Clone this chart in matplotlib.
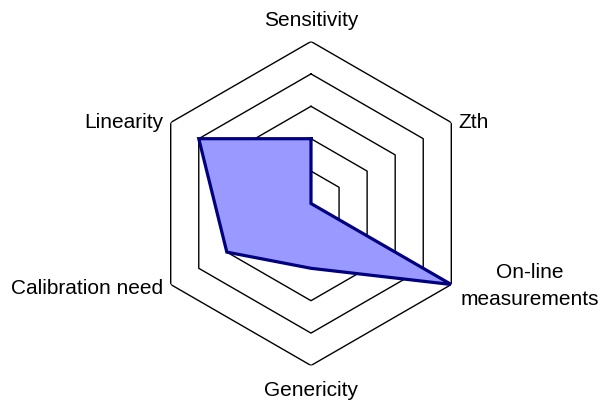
import matplotlib.pyplot as plt
import numpy as np

plt.rcParams['font.family'] = ['Liberation Sans', 'DejaVu Sans']

# data
categories = ['Sensitivity', 'Zth', 'On-line\nmeasurements', 'Genericity',
              'Calibration need', 'Linearity']
values = [2, 0, 5, 2, 3, 4]
levels = [1, 2, 3, 4, 5]

W, H = 610, 400
fig = plt.figure(figsize=(W / 100, H / 100), dpi=100)

# center and outer radius in pixels
cx, cy, R = 311, 203.5, 162
ax = fig.add_axes([(cx - R) / W, (H - cy - R) / H, 2 * R / W, 2 * R / H], polar=True)
ax.set_theta_offset(np.pi / 2)
ax.set_theta_direction(-1)

n = len(categories)
angles = np.linspace(0, 2 * np.pi, n, endpoint=False)
ang_c = np.append(angles, angles[0])

# hexagon grid
for lv in levels:
    ax.plot(ang_c, [lv] * (n + 1), color='black', lw=1.0, zorder=1)

vals_c = np.append(values, values[0])
ax.fill(ang_c, vals_c, facecolor='#9999ff', edgecolor='none', zorder=2)
ax.plot(ang_c, vals_c, color='#000080', lw=2.3, zorder=3, solid_joinstyle='miter')

ax.set_ylim(0, 5)
ax.axis('off')

# axis labels (pixel positions)
fs = 15
def lab(x, y, s, ha):
    fig.text(x / W, 1 - y / H, s, ha=ha, va='baseline', fontsize=fs)

lab(311, 26, categories[0], 'center')
lab(458, 128.3, categories[1], 'left')
lab(530, 278.3, 'On-line', 'center')
lab(530, 305, 'measurements', 'center')
lab(311, 396, categories[3], 'center')
lab(163, 294.3, categories[4], 'right')
lab(163, 128.3, categories[5], 'right')

fig.savefig('out.png', dpi=100)
